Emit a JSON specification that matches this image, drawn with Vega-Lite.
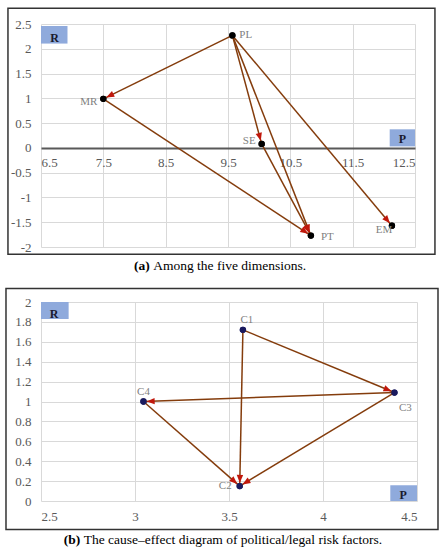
{
  "$schema": "https://vega.github.io/schema/vega-lite/v6.json",
  "padding": {"left": 5, "top": 7, "right": 5, "bottom": 5},
  "bounds": "flush",
  "spacing": 55,
  "config": {
    "font": "Liberation Serif",
    "view": {"stroke": null},
    "axis": {"labelFont": "Liberation Serif", "labelFontSize": 13, "labelColor": "#595959", "ticks": false, "gridColor": "#d9d9d9", "gridWidth": 1, "domain": false, "labelOverlap": false, "tickCount": 30}
  },
  "datasets": {
    "one": [{}],
    "nodesA": [
      {"name": "PL", "x": 9.57, "y": 2.27},
      {"name": "MR", "x": 7.5, "y": 0.99},
      {"name": "SE", "x": 10.04, "y": 0.08},
      {"name": "PT", "x": 10.83, "y": -1.77},
      {"name": "EM", "x": 12.13, "y": -1.57}
    ],
    "arrowsA": [
      {"from": "PL", "to": "MR", "sx": 9.57, "sy": 2.27, "tx": 7.5, "ty": 0.99},
      {"from": "PL", "to": "SE", "sx": 9.57, "sy": 2.27, "tx": 10.04, "ty": 0.08},
      {"from": "PL", "to": "PT", "sx": 9.57, "sy": 2.27, "tx": 10.83, "ty": -1.77},
      {"from": "PL", "to": "EM", "sx": 9.57, "sy": 2.27, "tx": 12.13, "ty": -1.57},
      {"from": "MR", "to": "PT", "sx": 7.5, "sy": 0.99, "tx": 10.83, "ty": -1.77},
      {"from": "SE", "to": "PT", "sx": 10.04, "sy": 0.08, "tx": 10.83, "ty": -1.77}
    ],
    "nodesB": [
      {"name": "C1", "x": 3.574, "y": 1.72},
      {"name": "C2", "x": 3.557, "y": 0.15},
      {"name": "C3", "x": 4.38, "y": 1.09},
      {"name": "C4", "x": 3.045, "y": 1.0}
    ],
    "arrowsB": [
      {"from": "C1", "to": "C3", "sx": 3.574, "sy": 1.72, "tx": 4.38, "ty": 1.09},
      {"from": "C3", "to": "C4", "sx": 4.38, "sy": 1.09, "tx": 3.045, "ty": 1.0},
      {"from": "C4", "to": "C2", "sx": 3.045, "sy": 1.0, "tx": 3.557, "ty": 0.15},
      {"from": "C1", "to": "C2", "sx": 3.574, "sy": 1.72, "tx": 3.557, "ty": 0.15},
      {"from": "C3", "to": "C2", "sx": 4.38, "sy": 1.09, "tx": 3.557, "ty": 0.15}
    ]
  },
  "vconcat": [
    {
      "width": 374,
      "height": 223,
      "layer": [
        {
          "data": {"name": "nodesA"},
          "mark": {"type": "circle", "size": 40, "color": "#000000", "opacity": 1},
          "encoding": {
            "x": {"field": "x", "type": "quantitative", "scale": {"domain": [6.5, 12.5], "nice": false, "zero": false}, "title": null,
              "axis": {"title": null, "values": [6.5, 7.5, 8.5, 9.5, 10.5, 11.5, 12.5], "tickCount": 30, "offset": -99, "domain": true, "domainColor": "#595959", "domainWidth": 2, "labelPadding": 8, "labelExpr": "'' + datum.value", "grid": true, "labelColor": "#595959", "labelFont": "Liberation Serif", "labelFontSize": 13, "labelOverlap": false}},
            "y": {"field": "y", "type": "quantitative", "scale": {"domain": [-2, 2.5], "nice": false, "zero": false}, "title": null,
              "axis": {"title": null, "values": [-2, -1.5, -1, -0.5, 0, 0.5, 1, 1.5, 2, 2.5], "tickCount": 30, "labelPadding": 10, "labelExpr": "'' + datum.value", "grid": true, "labelColor": "#595959", "labelFont": "Liberation Serif", "labelFontSize": 13, "labelOverlap": false}}
          }
        },
        {
          "data": {"name": "one"},
          "mark": {"type": "rect", "filled": false, "color": "#333333", "strokeWidth": 1.5},
          "encoding": {
            "x": {"datum": 5.97, "type": "quantitative"},
            "x2": {"datum": 12.82},
            "y": {"datum": 2.817, "type": "quantitative"},
            "y2": {"datum": -2.147}
          }
        },
        {
          "data": {"name": "one"},
          "mark": {"type": "rect", "color": "#8faadc", "opacity": 1},
          "encoding": {
            "x": {"datum": 6.5, "type": "quantitative"},
            "x2": {"datum": 6.925},
            "y": {"datum": 2.46, "type": "quantitative"},
            "y2": {"datum": 2.105}
          }
        },
        {
          "data": {"name": "one"},
          "mark": {"type": "text", "text": "R", "fontWeight": "bold", "fontSize": 12, "color": "#1a1a2e", "baseline": "middle", "align": "center"},
          "encoding": {
            "x": {"datum": 6.717, "type": "quantitative"},
            "y": {"datum": 2.22, "type": "quantitative"}
          }
        },
        {
          "data": {"name": "one"},
          "mark": {"type": "rect", "color": "#8faadc", "opacity": 1},
          "encoding": {
            "x": {"datum": 12.094, "type": "quantitative"},
            "x2": {"datum": 12.5},
            "y": {"datum": 0.375, "type": "quantitative"},
            "y2": {"datum": 0.03}
          }
        },
        {
          "data": {"name": "one"},
          "mark": {"type": "text", "text": "P", "fontWeight": "bold", "fontSize": 12, "color": "#1a1a2e", "baseline": "middle", "align": "center"},
          "encoding": {
            "x": {"datum": 12.3, "type": "quantitative"},
            "y": {"datum": 0.18, "type": "quantitative"}
          }
        },
        {
          "data": {"name": "arrowsA"},
          "mark": {"type": "rule", "color": "#843c0c", "strokeWidth": 1.5},
          "encoding": {
            "x": {"field": "sx", "type": "quantitative"},
            "y": {"field": "sy", "type": "quantitative"},
            "x2": {"field": "tx"},
            "y2": {"field": "ty"}
          }
        },
        {
          "data": {"name": "arrowsA"},
          "mark": {"type": "point", "shape": "M0,0.4L-0.4,1.4L0.4,1.4Z", "filled": true, "size": 256, "color": "#c0180c", "opacity": 1,
            "angle": {"expr": "atan2((datum.tx - datum.sx) * 62.33, (datum.ty - datum.sy) * 49.56) * 180 / PI"}},
          "encoding": {
            "x": {"field": "tx", "type": "quantitative"},
            "y": {"field": "ty", "type": "quantitative"}
          }
        },
        {
          "data": {"name": "nodesA"},
          "mark": {"type": "circle", "size": 40, "color": "#000000", "opacity": 1},
          "encoding": {
            "x": {"field": "x", "type": "quantitative"},
            "y": {"field": "y", "type": "quantitative"}
          }
        },
        {
          "data": {"name": "nodesA"},
          "transform": [{"filter": "datum.name === 'PL'"}],
          "mark": {"type": "text", "align": "left", "baseline": "middle", "dx": 7, "dy": 0, "fontSize": 11, "color": "#7f7f7f"},
          "encoding": {"x": {"field": "x", "type": "quantitative"}, "y": {"field": "y", "type": "quantitative"}, "text": {"field": "name"}}
        },
        {
          "data": {"name": "nodesA"},
          "transform": [{"filter": "datum.name === 'MR'"}],
          "mark": {"type": "text", "align": "right", "baseline": "middle", "dx": -6, "dy": 3, "fontSize": 11, "color": "#7f7f7f"},
          "encoding": {"x": {"field": "x", "type": "quantitative"}, "y": {"field": "y", "type": "quantitative"}, "text": {"field": "name"}}
        },
        {
          "data": {"name": "nodesA"},
          "transform": [{"filter": "datum.name === 'SE'"}],
          "mark": {"type": "text", "align": "right", "baseline": "middle", "dx": -6, "dy": -3, "fontSize": 11, "color": "#7f7f7f"},
          "encoding": {"x": {"field": "x", "type": "quantitative"}, "y": {"field": "y", "type": "quantitative"}, "text": {"field": "name"}}
        },
        {
          "data": {"name": "nodesA"},
          "transform": [{"filter": "datum.name === 'PT'"}],
          "mark": {"type": "text", "align": "left", "baseline": "middle", "dx": 10, "dy": 1, "fontSize": 11, "color": "#7f7f7f"},
          "encoding": {"x": {"field": "x", "type": "quantitative"}, "y": {"field": "y", "type": "quantitative"}, "text": {"field": "name"}}
        },
        {
          "data": {"name": "nodesA"},
          "transform": [{"filter": "datum.name === 'EM'"}],
          "mark": {"type": "text", "align": "center", "baseline": "middle", "dx": -8, "dy": 4, "fontSize": 11, "color": "#7f7f7f"},
          "encoding": {"x": {"field": "x", "type": "quantitative"}, "y": {"field": "y", "type": "quantitative"}, "text": {"field": "name"}}
        },
        {
          "data": {"name": "one"},
          "mark": {"type": "text", "text": "(a)", "fontWeight": "bold", "fontSize": 13.5, "color": "#000000", "align": "right", "baseline": "middle"},
          "encoding": {"x": {"datum": 8.244, "type": "quantitative"}, "y": {"datum": -2.389, "type": "quantitative"}}
        },
        {
          "data": {"name": "one"},
          "mark": {"type": "text", "text": "Among the five dimensions.", "fontSize": 13.5, "color": "#000000", "align": "left", "baseline": "middle", "dx": 3.5},
          "encoding": {"x": {"datum": 8.244, "type": "quantitative"}, "y": {"datum": -2.389, "type": "quantitative"}}
        }
      ]
    },
    {
      "width": 376,
      "height": 199,
      "layer": [
        {
          "data": {"name": "nodesB"},
          "mark": {"type": "circle", "size": 40, "color": "#1a1a5e", "opacity": 1},
          "encoding": {
            "x": {"field": "x", "type": "quantitative", "scale": {"domain": [2.5, 4.5], "nice": false, "zero": false}, "title": null,
              "axis": {"title": null, "values": [2.5, 3, 3.5, 4, 4.5], "tickCount": 30, "labelPadding": 9, "labelExpr": "'' + datum.value", "grid": true, "labelColor": "#595959", "labelFont": "Liberation Serif", "labelFontSize": 13, "labelOverlap": false}},
            "y": {"field": "y", "type": "quantitative", "scale": {"domain": [0, 2], "nice": false, "zero": false}, "title": null,
              "axis": {"title": null, "values": [0, 0.2, 0.4, 0.6, 0.8, 1, 1.2, 1.4, 1.6, 1.8, 2], "tickCount": 30, "labelPadding": 10, "labelExpr": "'' + datum.value", "grid": true, "labelColor": "#595959", "labelFont": "Liberation Serif", "labelFontSize": 13, "labelOverlap": false}}
          }
        },
        {
          "data": {"name": "one"},
          "mark": {"type": "rect", "filled": false, "color": "#333333", "strokeWidth": 1.5},
          "encoding": {
            "x": {"datum": 2.3138, "type": "quantitative"},
            "x2": {"datum": 4.6117},
            "y": {"datum": 2.135, "type": "quantitative"},
            "y2": {"datum": -0.287}
          }
        },
        {
          "data": {"name": "one"},
          "mark": {"type": "rect", "color": "#8faadc", "opacity": 1},
          "encoding": {
            "x": {"datum": 2.5, "type": "quantitative"},
            "x2": {"datum": 2.647},
            "y": {"datum": 2, "type": "quantitative"},
            "y2": {"datum": 1.829}
          }
        },
        {
          "data": {"name": "one"},
          "mark": {"type": "text", "text": "R", "fontWeight": "bold", "fontSize": 12, "color": "#1a1a2e", "baseline": "middle", "align": "center"},
          "encoding": {"x": {"datum": 2.569, "type": "quantitative"}, "y": {"datum": 1.879, "type": "quantitative"}}
        },
        {
          "data": {"name": "one"},
          "mark": {"type": "rect", "color": "#8faadc", "opacity": 1},
          "encoding": {
            "x": {"datum": 4.358, "type": "quantitative"},
            "x2": {"datum": 4.5},
            "y": {"datum": 0.158, "type": "quantitative"},
            "y2": {"datum": 0}
          }
        },
        {
          "data": {"name": "one"},
          "mark": {"type": "text", "text": "P", "fontWeight": "bold", "fontSize": 12, "color": "#1a1a2e", "baseline": "middle", "align": "center"},
          "encoding": {"x": {"datum": 4.426, "type": "quantitative"}, "y": {"datum": 0.06, "type": "quantitative"}}
        },
        {
          "data": {"name": "arrowsB"},
          "mark": {"type": "rule", "color": "#843c0c", "strokeWidth": 1.5},
          "encoding": {
            "x": {"field": "sx", "type": "quantitative"},
            "y": {"field": "sy", "type": "quantitative"},
            "x2": {"field": "tx"},
            "y2": {"field": "ty"}
          }
        },
        {
          "data": {"name": "arrowsB"},
          "mark": {"type": "point", "shape": "M0,0.4L-0.4,1.4L0.4,1.4Z", "filled": true, "size": 256, "color": "#c0180c", "opacity": 1,
            "angle": {"expr": "atan2((datum.tx - datum.sx) * 188, (datum.ty - datum.sy) * 99.5) * 180 / PI"}},
          "encoding": {"x": {"field": "tx", "type": "quantitative"}, "y": {"field": "ty", "type": "quantitative"}}
        },
        {
          "data": {"name": "nodesB"},
          "mark": {"type": "circle", "size": 40, "color": "#1a1a5e", "opacity": 1},
          "encoding": {"x": {"field": "x", "type": "quantitative"}, "y": {"field": "y", "type": "quantitative"}}
        },
        {
          "data": {"name": "nodesB"},
          "transform": [{"filter": "datum.name === 'C1'"}],
          "mark": {"type": "text", "align": "center", "baseline": "middle", "dx": 4, "dy": -10, "fontSize": 11, "color": "#7f7f7f"},
          "encoding": {"x": {"field": "x", "type": "quantitative"}, "y": {"field": "y", "type": "quantitative"}, "text": {"field": "name"}}
        },
        {
          "data": {"name": "nodesB"},
          "transform": [{"filter": "datum.name === 'C3'"}],
          "mark": {"type": "text", "align": "center", "baseline": "middle", "dx": 11, "dy": 15, "fontSize": 11, "color": "#7f7f7f"},
          "encoding": {"x": {"field": "x", "type": "quantitative"}, "y": {"field": "y", "type": "quantitative"}, "text": {"field": "name"}}
        },
        {
          "data": {"name": "nodesB"},
          "transform": [{"filter": "datum.name === 'C4'"}],
          "mark": {"type": "text", "align": "center", "baseline": "middle", "dx": 0, "dy": -10, "fontSize": 11, "color": "#7f7f7f"},
          "encoding": {"x": {"field": "x", "type": "quantitative"}, "y": {"field": "y", "type": "quantitative"}, "text": {"field": "name"}}
        },
        {
          "data": {"name": "nodesB"},
          "transform": [{"filter": "datum.name === 'C2'"}],
          "mark": {"type": "text", "align": "right", "baseline": "middle", "dx": -8, "dy": 0, "fontSize": 11, "color": "#7f7f7f"},
          "encoding": {"x": {"field": "x", "type": "quantitative"}, "y": {"field": "y", "type": "quantitative"}, "text": {"field": "name"}}
        },
        {
          "data": {"name": "one"},
          "mark": {"type": "text", "text": "(b)", "fontWeight": "bold", "fontSize": 13.5, "color": "#000000", "align": "right", "baseline": "middle"},
          "encoding": {"x": {"datum": 2.7085, "type": "quantitative"}, "y": {"datum": -0.395, "type": "quantitative"}}
        },
        {
          "data": {"name": "one"},
          "mark": {"type": "text", "text": "The cause–effect diagram of political/legal risk factors.", "fontSize": 13.5, "color": "#000000", "align": "left", "baseline": "middle", "dx": 3.5},
          "encoding": {"x": {"datum": 2.7085, "type": "quantitative"}, "y": {"datum": -0.395, "type": "quantitative"}}
        }
      ]
    }
  ]
}
